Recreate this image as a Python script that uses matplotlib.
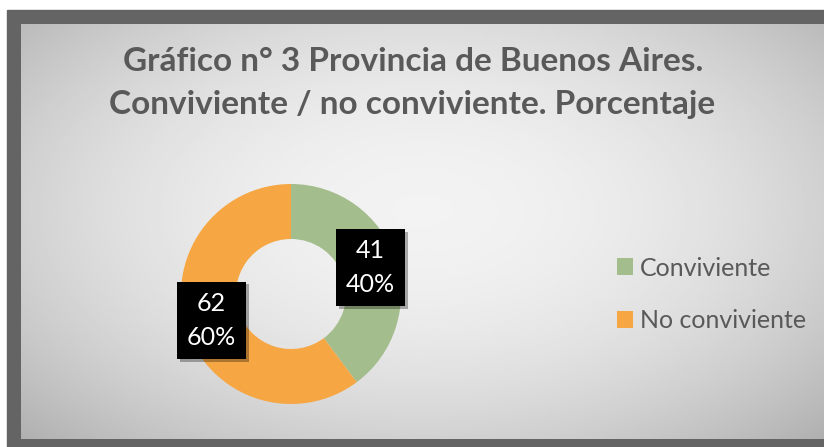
import numpy as np
import matplotlib.pyplot as plt
from matplotlib.patches import Rectangle
import matplotlib.patheffects as pe

plt.rcParams['font.family'] = ['Lato', 'DejaVu Sans']

categories = ['Conviviente', 'No conviviente']
counts = [41, 62]
colors = ['#A4BD8C', '#F6A744']
title_lines = ['Gráfico n° 3 Provincia de Buenos Aires.',
               'Conviviente / no conviviente. Porcentaje']

W, H = 824, 447
fig = plt.figure(figsize=(W / 100, H / 100), dpi=100)
fig.patch.set_facecolor('white')

# background: dark frame + radial gradient panel
bg = fig.add_axes([0, 0, 1, 1])
bg.set_xlim(0, W)
bg.set_ylim(H, 0)
bg.axis('off')
bg.add_patch(Rectangle((7, 10), W - 7, H - 10, color='#646464', zorder=0))
x0, y0, x1, y1 = 21, 24, W, 439
yy, xx = np.mgrid[0:1:200j, 0:1:400j]
r2 = ((xx - 0.5) / 0.5) ** 2 + ((yy - 0.45) / 0.55) ** 2
grad = 0.95 - 0.13 * r2
bg.imshow(grad, cmap='gray', vmin=0, vmax=1, extent=(x0, x1, y1, y0),
          aspect='auto', zorder=1, interpolation='bilinear')

# title
fig.text(413 / W, 1 - 71 / H, title_lines[0], ha='center', va='baseline',
         fontsize=24, fontweight='bold', color='#595959')
fig.text(412 / W, 1 - 114 / H, title_lines[1], ha='center', va='baseline',
         fontsize=24, fontweight='bold', color='#595959')

# donut
cx, cy, R = 291, 294, 110
ax = fig.add_axes([(cx - R) / W, 1 - (cy + R) / H, 2 * R / W, 2 * R / H])
total = sum(counts)


def fmt(p):
    v = int(round(p * total / 100))
    return f'{v}\n{p:.0f}%'


wedges, texts, autotexts = ax.pie(
    counts, colors=colors, startangle=90, counterclock=False,
    radius=1, autopct=fmt, pctdistance=0.76,
    wedgeprops=dict(width=0.5, edgecolor='none'),
    textprops=dict(color='white', fontsize=18, linespacing=1.6))
for t in autotexts:
    t.set_ha('center')
    t.set_multialignment('center')
    t.set_bbox(dict(boxstyle='square,pad=0.4', facecolor='black', edgecolor='none'))
    t.get_bbox_patch().set_path_effects(
        [pe.SimplePatchShadow(offset=(2, -2), alpha=0.3), pe.Normal()])
ax.set_xlim(-1, 1)
ax.set_ylim(-1, 1)
ax.set_aspect('auto')

leg = fig.legend(wedges, categories, loc='center left',
                 bbox_to_anchor=(617 / W, 1 - 294.5 / H), frameon=False,
                 fontsize=18, labelcolor='#595959', handlelength=0.65,
                 handleheight=0.65, handletextpad=0.25, labelspacing=1.2,
                 borderpad=0, borderaxespad=0)

fig.savefig('out.png', dpi=100)
